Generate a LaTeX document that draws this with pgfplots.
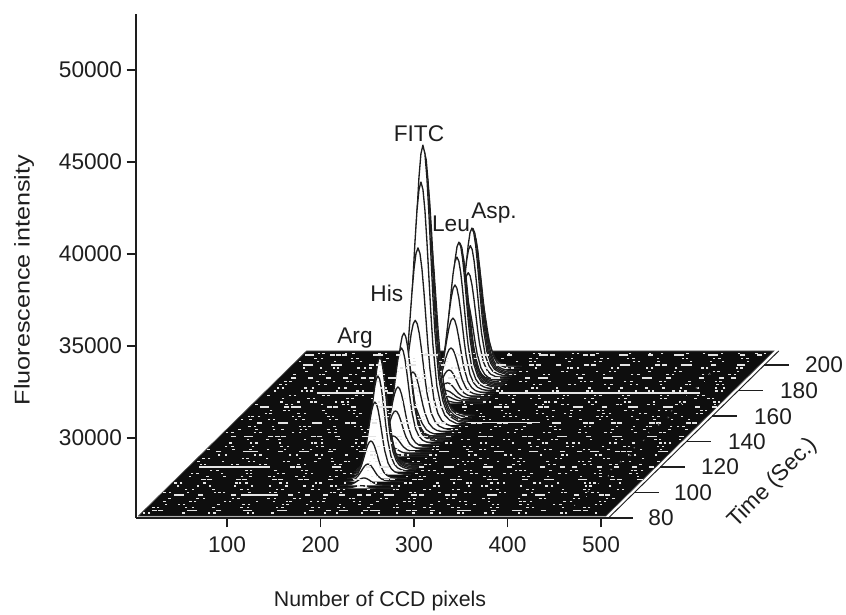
\documentclass[border=0pt]{standalone}
\usepackage{pgfplots}
\usepackage{fontspec}
\setmainfont{Liberation Sans}
\pgfplotsset{compat=1.18}
\definecolor{ink}{HTML}{1E1E1E}
\definecolor{floorc}{HTML}{0E0E0E}
\definecolor{speck}{HTML}{E4E4E4}

% a row of bright specks on the floor: time, offset along the row, half length, positions (CCD pixel)
\newcommand\specks[4]{\addplot[draw=none,only marks,mark=-,mark size=#3pt,mark options={draw=speck,line width=0.95pt}] table[row sep=\\, x expr={\thisrow{p}+#2-497*((\thisrow{p}+#2)>497)+4+1.39*(#1-80)}, y expr=25652+69.3*(#1-80)] {p\\ #4};}
\newcommand\rowA[3]{\specks{#1}{#2}{#3}{5\\ 9\\ 31\\ 38\\ 44\\ 77\\ 83\\ 102\\ 131\\ 136\\ 141\\ 168\\ 190\\ 196\\ 221\\ 255\\ 259\\ 266\\ 302\\ 309\\ 340\\ 345\\ 371\\ 399\\ 404\\ 436\\ 441\\ 470\\ 488\\}}
\newcommand\rowB[3]{\specks{#1}{#2}{#3}{14\\ 21\\ 52\\ 58\\ 90\\ 97\\ 118\\ 124\\ 150\\ 177\\ 181\\ 210\\ 216\\ 240\\ 246\\ 281\\ 288\\ 320\\ 326\\ 358\\ 381\\ 386\\ 417\\ 422\\ 452\\ 459\\ 481\\}}
\newcommand\rowC[3]{\specks{#1}{#2}{#3}{3\\ 27\\ 35\\ 63\\ 70\\ 108\\ 113\\ 145\\ 159\\ 164\\ 201\\ 228\\ 234\\ 270\\ 275\\ 296\\ 331\\ 352\\ 365\\ 392\\ 410\\ 429\\ 447\\ 466\\ 475\\ 495\\}}

\newcommand\seg[3]{\addplot[speck,line width=1.1pt] table[row sep=\\, x expr=\thisrow{p}+1.39*(#1-80), y expr=25652+69.3*(#1-80)] {p\\ #2\\ #3\\};}
\newcommand\spots[2]{\addplot[draw=none,mark=*,mark size=0.9pt,mark options={draw=none,fill=speck},only marks] table[row sep=\\, x expr=\thisrow{p}+1.39*(#1-80), y expr=25652+69.3*(#1-80)] {p\\ #2};}

\begin{document}
\begin{tikzpicture}
\path[use as bounding box] (0,0) rectangle (634.5pt,460.5pt);
\begin{axis}[
  at={(102pt,72pt)}, anchor=south west,
  scale only axis, width=354pt, height=378pt,
  xmin=2.7, xmax=507.5, ymin=25652, ymax=53043,
  clip=false,
  axis lines=left,
  axis line style={-,ink,line width=0.8pt},
  xtick={100,200,300,400,500},
  ytick={30000,35000,40000,45000,50000},
  tick style={ink,line width=0.8pt},
  major tick length=7pt,
  tick align=outside,
  tick pos=left,
  /pgf/number format/assume math mode=true,
  /pgf/number format/1000 sep={},
  scaled ticks=false,
  ticklabel style={font=\fontsize{17}{19}\selectfont,text=ink},
  xticklabel style={yshift=-3.5pt},
  xlabel={Number of CCD pixels},
  ylabel={Fluorescence intensity},
  xlabel style={font=\fontsize{16}{18}\selectfont,text=ink,at={(axis description cs:0.517,-0.165)},anchor=center},
  ylabel style={font=\fontsize{16}{18}\selectfont,text=ink,at={(axis description cs:-0.237,0.472)},anchor=center,xscale=1.18},
]
% floor
\addplot[fill=floorc,draw=floorc!70!white,line width=0.5pt] table[row sep=\\, x expr=\thisrow{p}+1.39*(\thisrow{t}-80), y expr=25652+69.3*(\thisrow{t}-80)] {p t\\ 3 81.5\\ 503 81.5\\ 503 211\\ 3 211\\ 3 81.5\\};
% outer edge of the floor
\addplot[ink,line width=0.7pt] table[row sep=\\, x expr=\thisrow{p}+1.39*(\thisrow{t}-80), y expr=25652+69.3*(\thisrow{t}-80)] {p t\\ 508 80\\ 508 211\\};

% rows of short specks
\rowC{209}{17}{0.9}\rowB{205}{233}{0.9}\rowC{202.6}{91}{0.9}
\rowA{197.6}{42}{0.9}\rowC{195}{187}{0.9}\rowB{192.4}{359}{0.9}
\rowA{187}{71}{0.9}\rowB{184.6}{265}{0.9}\rowC{182}{11}{0.9}\rowA{179.6}{404}{0.9}
\rowB{176}{146}{0.9}\rowC{173.6}{322}{0.9}\rowA{171}{55}{0.9}\rowB{169}{213}{0.9}
\rowC{164.4}{378}{0.9}\rowB{161.8}{104}{0.9}\rowA{159.4}{251}{0.9}\rowC{157}{36}{0.9}
\rowA{152}{440}{0.9}\rowC{149.4}{81}{0.9}\rowB{146.8}{290}{0.9}
\rowC{141.4}{199}{0.9}\rowA{138.8}{347}{0.9}\rowB{136.2}{62}{0.9}\rowC{134}{133}{0.9}
\rowB{129.4}{5}{0.9}\rowC{126.8}{275}{0.9}\rowA{124.4}{156}{0.9}\rowB{122}{330}{0.9}
\rowA{117.4}{222}{0.9}\rowB{115}{389}{0.9}\rowC{112.6}{98}{0.9}
\rowA{107.4}{310}{0.9}\rowC{105}{175}{0.9}\rowB{102.6}{66}{0.9}\rowA{100.2}{421}{0.9}
\rowB{95.4}{29}{0.9}\rowA{93}{137}{0.9}\rowC{90.6}{368}{0.9}\rowB{88.2}{86}{0.9}
\rowC{84}{340}{0.9}
% rows of longer dashes
\rowA{207.8}{0}{1.9}\rowB{200}{300}{1.9}\rowC{189.8}{120}{1.9}\rowA{167}{8}{1.9}\rowB{154.5}{166}{1.9}
\rowA{144}{23}{1.9}\rowA{132}{410}{1.9}\rowC{120}{47}{1.9}\rowB{110}{15}{1.9}\rowC{98}{244}{1.9}\rowA{86}{205}{1.9}
% long bright lines
\seg{178}{60}{240}
\seg{178}{255}{470}
\seg{120}{15}{90}
\seg{98}{90}{130}
\seg{155}{250}{330}
% the diagonal streak near the right edge
\spots{90}{458\\}\spots{97}{461\\}\spots{101}{457\\}\spots{107}{460\\}\spots{113}{462\\}\spots{118}{458\\}\spots{124}{460\\}\spots{129}{463\\}\spots{135}{459\\}\spots{141}{461\\}\spots{147}{458\\}\spots{153}{460\\}\spots{159}{462\\}\spots{164}{459\\}\spots{170}{461\\}\spots{176}{458\\}\spots{182}{460\\}\spots{187}{462\\}\spots{193}{459\\}

% traces: time / height above floor / CCD pixel / peak width, from the back to the front
\foreach \tt/\hh/\cc/\ss in {
  199.0/2500/206/8, 197.0/4500/206/8, 195.0/6500/206/8, 193.9/7500/206/8, 193.0/7900/206/8,
  192.2/7980/206/8, 191.0/7110/206/8, 189.4/5750/206/8, 187.6/4450/206/8,
  188.0/2000/206/8, 186.4/4000/206/8, 185.0/6000/206/8, 184.0/7200/206/8, 183.0/7800/206/8,
  182.2/7910/206/8, 180.7/7200/206/8, 179.2/5790/206/8, 177.6/4100/206/8,
  176.1/2580/206/8, 174.6/1490/206/8, 173.4/870/206/8, 172.2/540/206/8,
  171.1/330/206/8, 169.9/160/206/8,
  160.5/6000/206/8.5, 158.5/10500/206/8.5, 156.6/13500/206/8.5, 155.5/14700/206/8.5,
  154.5/15100/206/8.5, 153.0/13200/206/8.5, 150.7/9780/206/8.5, 148.6/5990/206/8.5,
  146.8/3310/206/8.5, 144.9/1900/206/8.5, 143.0/980/206/8.5, 141.4/330/206/8.5,
  143.5/2000/206/7.5, 142.0/3800/206/7.5, 141.0/5000/206/7.5,
  139.9/5900/206/7.5, 138.0/5220/206/7.5, 135.3/3290/206/7.5, 133.4/2120/206/7.5,
  131.5/890/206/7.5, 130.0/380/206/7.5, 128.4/200/206/7.5,
  122.5/1500/211/7, 121.0/3000/211/7, 119.8/4600/211/7, 118.8/5600/211/7,
  117.8/6130/211/7, 116.3/5200/211/7, 114.0/3945/211/7, 110.9/2043/211/7,
  108.6/951/211/7, 105.5/408/211/7, 103.2/150/211/7}{
  \addplot[fill=white,draw=ink,line width=1pt,line join=round] table[row sep=\\, x expr=\cc+\ss*\thisrow{u}+1.39*(\tt-80), y expr=25652+\hh*\thisrow{v}+69.3*(\tt-80)] {u v\\ -3.6 0\\ -3 0.012\\ -2.5 0.045\\ -2 0.125\\ -1.5 0.325\\ -1.25 0.458\\ -1 0.607\\ -0.75 0.755\\ -0.5 0.883\\ -0.25 0.969\\ 0 1\\ 0.25 0.969\\ 0.5 0.883\\ 0.75 0.755\\ 1 0.607\\ 1.25 0.458\\ 1.5 0.33\\ 2 0.16\\ 2.5 0.08\\ 3 0.04\\ 3.6 0.02\\ 4.5 0.005\\ 5.5 0\\};
}

% time axis
\foreach \tm in {80,100,120,140,160,180,200}{
  \addplot[ink,line width=0.8pt] table[row sep=\\, x expr=\thisrow{p}+1.39*(\tm-80), y expr=25652+69.3*(\tm-80)] {p\\ 508\\ 534\\};
}
\node[font=\fontsize{17}{19}\selectfont,text=ink] at (axis cs:564.2,25652) {80};
\node[font=\fontsize{17}{19}\selectfont,text=ink] at (axis cs:598.4,27011) {100};
\node[font=\fontsize{17}{19}\selectfont,text=ink] at (axis cs:627.3,28424) {120};
\node[font=\fontsize{17}{19}\selectfont,text=ink] at (axis cs:656.1,29782) {140};
\node[font=\fontsize{17}{19}\selectfont,text=ink] at (axis cs:684,31141) {160};
\node[font=\fontsize{17}{19}\selectfont,text=ink] at (axis cs:711.8,32554) {180};
\node[font=\fontsize{17}{19}\selectfont,text=ink] at (axis cs:738.5,33967) {200};
\node[font=\fontsize{17}{19}\selectfont,text=ink,rotate=45] at (axis cs:684,27554) {Time (Sec.)};
% peak names
\node[font=\fontsize{17}{19}\selectfont,text=ink] at (axis cs:305.3,46522) {FITC};
\node[font=\fontsize{17}{19}\selectfont,text=ink] at (axis cs:271,37880) {His};
\node[font=\fontsize{17}{19}\selectfont,text=ink] at (axis cs:236.9,35435) {Arg};
\node[font=\fontsize{17}{19}\selectfont,text=ink] at (axis cs:339.6,41630) {Leu};
\node[font=\fontsize{17}{19}\selectfont,text=ink] at (axis cs:385.6,42228) {Asp.};
\end{axis}
\end{tikzpicture}
\end{document}
